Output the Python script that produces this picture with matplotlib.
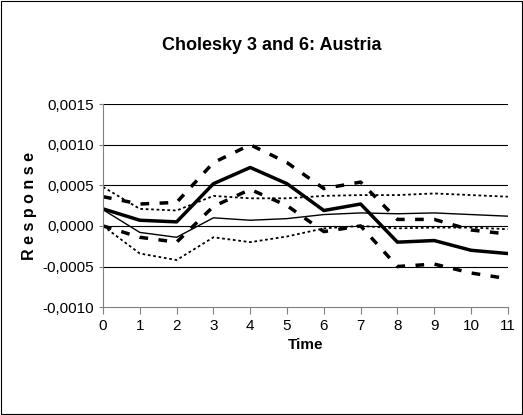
import matplotlib
matplotlib.use("Agg")
import matplotlib.pyplot as plt
from matplotlib.ticker import FuncFormatter
plt.rcParams['font.family'] = ['Liberation Sans', 'DejaVu Sans']

time = list(range(12))
chol = [0.00021,0.00007,0.00005,0.00052,0.00072,0.00052,0.00019,0.00027,-0.0002,-0.00018,-0.0003,-0.00034]
chol_up = [0.00036,0.00027,0.00029,0.00078,0.00100,0.00078,0.00046,0.00054,0.00008,0.00008,-0.00005,-0.0001]
chol_lo = [0.0,-0.00014,-0.0002,0.00024,0.00045,0.00025,-0.00007,0.0,-0.0005,-0.00047,-0.00058,-0.00065]
thin = [0.0002,-0.00008,-0.00014,0.0001,0.00007,0.00009,0.00014,0.00016,0.00015,0.00016,0.00014,0.00012]
thin_up = [0.00048,0.00021,0.00019,0.00037,0.00034,0.00034,0.00037,0.00038,0.00038,0.0004,0.00038,0.00036]
thin_lo = [0.0,-0.00034,-0.00042,-0.00014,-0.0002,-0.00013,-0.00003,0.0,-0.00003,-0.00002,-0.00002,-0.00004]

fig = plt.figure(figsize=(5.23,4.15), dpi=100)
fig.patches.append(plt.Rectangle((0.002,0.002),0.996,0.996,transform=fig.transFigure,fill=False,lw=0.8,ec='black'))
ax = fig.add_axes([0.197,0.260,0.774,0.489])
for y in [-0.0005,0.0,0.0005,0.0010,0.0015]:
    ax.axhline(y,color='black',lw=0.8,zorder=0)
ax.plot(time,chol,color='black',lw=2.5)
ax.plot(time,chol_up,color='black',lw=2.5,ls=(0,(2.5,3)))
ax.plot(time,chol_lo,color='black',lw=2.5,ls=(0,(2.5,3)))
ax.plot(time,thin,color='black',lw=1)
ax.plot(time,thin_up,color='black',lw=1.3,ls=(0,(1.5,1.5)))
ax.plot(time,thin_lo,color='black',lw=1.3,ls=(0,(1.5,1.5)))
ax.set_xlim(0,11)
ax.set_ylim(-0.0010,0.0015)
ax.set_xticks(time)
ax.set_yticks([-0.0010,-0.0005,0,0.0005,0.0010,0.0015])
ax.yaxis.set_major_formatter(FuncFormatter(lambda v,p: f"{v:.4f}".replace('.',',').replace('-0,0000','0,0000')))
for s in ['top','right']:
    ax.spines[s].set_visible(False)
ax.spines['left'].set_color('#808080'); ax.spines['bottom'].set_color('#808080')
ax.tick_params(labelsize=11, length=5, color='#808080')
ax.tick_params(axis='y', length=3)
ax.set_xlabel('Time', fontweight='bold', fontsize=11)
ax.set_ylabel('R e s p o n s e', fontweight='bold', fontsize=11.5)
fig.text(0.52,0.89,'Cholesky 3 and 6: Austria',ha='center',va='center',fontweight='bold',fontsize=13)
fig.savefig('out.png')
